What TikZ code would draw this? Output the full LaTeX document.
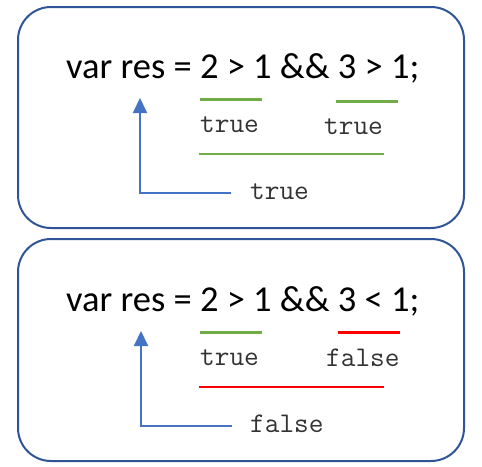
\documentclass[tikz,border=0pt]{standalone}
\usepackage{fontspec}
\setmainfont{Carlito}
\usetikzlibrary{arrows.meta}

\definecolor{panelblue}{RGB}{47,85,151}
\definecolor{arrowblue}{RGB}{68,114,196}
\definecolor{okgreen}{RGB}{112,173,71}
\definecolor{badred}{RGB}{255,0,0}

\begin{document}
\begin{tikzpicture}[
    x=1pt, y=-1pt,
    panel/.style={draw=panelblue, line width=2pt, rounded corners=33pt},
    expr/.style={anchor=base west, inner sep=0pt, font=\fontsize{36.5}{44}\selectfont},
    val/.style={anchor=base west, inner sep=0pt, font=\fontsize{28.5}{34}\selectfont\ttfamily, text=black!80},
    partline/.style={line width=3pt},
    totalline/.style={line width=2pt},
    result/.style={draw=arrowblue, line width=2pt, -{Triangle[length=15pt, width=14pt]}}
]
\useasboundingbox (0,0) rectangle (482,466);

% Upper panel: both operands true
\draw[panel] (18,7) rectangle (464,228);
\node[expr] (E1) at (66,78) {var res = 2 > 1 \&\& 3 > 1;};
\draw[partline, okgreen] (200,99) -- (262,99);
\draw[partline, okgreen] (336,101) -- (398,101);
\node[val] (L1) at (200,132) {true};
\node[val] (R1) at (324,134) {true};
\draw[totalline, okgreen] (199,154) -- (384,154);
\node[val] (A1) at (250,199) {true};
\coordinate (from1) at (231,193);
\coordinate (to1) at (140,98);
\draw[result] (from1) -| (to1);

% Lower panel: second operand false
\draw[panel] (18,239) rectangle (464,461);
\node[expr] (E2) at (66,311) {var res = 2 > 1 \&\& 3 < 1;};
\draw[partline, okgreen] (200,332) -- (262,332);
\draw[partline, badred] (338,332) -- (400,332);
\node[val] (L2) at (200,365) {true};
\node[val] (R2) at (326,366) {false};
\draw[totalline, badred] (199,387) -- (384,387);
\node[val] (A2) at (250,432) {false};
\coordinate (from2) at (232,426);
\coordinate (to2) at (141,331);
\draw[result] (from2) -| (to2);

\end{tikzpicture}
\end{document}
